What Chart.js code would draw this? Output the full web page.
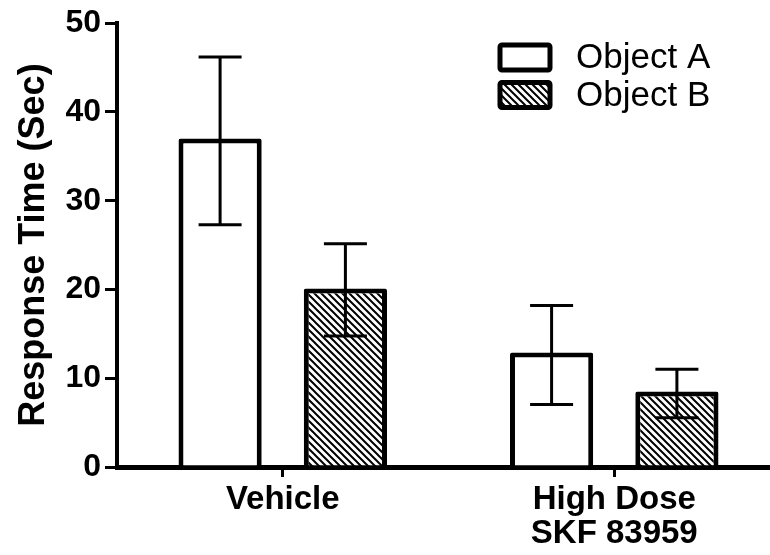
<!DOCTYPE html>
<html>
<head>
<meta charset="utf-8">
<script src="https://cdn.jsdelivr.net/npm/chart.js@4/dist/chart.umd.min.js"></script>
<style>
  html, body { margin: 0; padding: 0; overflow: hidden; background: #fff; }
  #wrap { width: 780px; height: 555px; }
</style>
</head>
<body>
<div id="wrap"><canvas id="myChart" width="780" height="555"></canvas></div>
<script>
// data
const groups = ["Vehicle", ["High Dose", "SKF 83959"]];
const seriesNames = ["Object A", "Object B"];
const objectA = [37.0, 12.9];
const objectB = [20.1, 8.5];
// whisker ends (upper / lower)
const errHighA = [46.2, 18.2];
const errLowA = [27.3, 7.05];
const errHighB = [25.15, 11.0];
const errLowB = [14.75, 5.55];
const yTicks = [0, 10, 20, 30, 40, 50];

const fontFam = '"Liberation Sans", Arial, sans-serif';

// diagonal hatch for Object B
function makeHatch() {
    const c = document.createElement("canvas");
    c.width = 7;
    c.height = 7;
    const g = c.getContext("2d");
    g.fillStyle = "#fff";
    g.fillRect(0, 0, 7, 7);
    g.strokeStyle = "#000";
    g.lineWidth = 2;
    g.beginPath();
    g.moveTo(-1, -1); g.lineTo(8, 8);
    g.moveTo(-1, 6); g.lineTo(1, 8);
    g.moveTo(6, -1); g.lineTo(8, 1);
    g.stroke();
    return g.createPattern(c, "repeat");
}
const hatch = makeHatch();

// error bars drawn through the y scale
const errorBars = {
    id: "errorBars",
    afterDatasetsDraw(chart) {
        const ctx = chart.ctx;
        const y = chart.scales.y;
        const highs = [errHighA, errHighB];
        const lows = [errLowA, errLowB];
        ctx.save();
        ctx.strokeStyle = "#000";
        ctx.lineWidth = 3;
        chart.data.datasets.forEach((ds, i) => {
            const meta = chart.getDatasetMeta(i);
            meta.data.forEach((bar, j) => {
                const hi = y.getPixelForValue(highs[i][j]);
                const lo = y.getPixelForValue(lows[i][j]);
                const x = bar.x;
                ctx.beginPath();
                ctx.moveTo(x, hi); ctx.lineTo(x, lo);
                ctx.moveTo(x - 21.5, hi); ctx.lineTo(x + 21.5, hi);
                ctx.moveTo(x - 21.5, lo); ctx.lineTo(x + 21.5, lo);
                ctx.stroke();
            });
        });
        ctx.restore();
    }
};

// legend inside the plot, top right
const boxLegend = {
    id: "boxLegend",
    afterDraw(chart) {
        const ctx = chart.ctx;
        ctx.save();
        chart.data.datasets.forEach((ds, i) => {
            const top = 45 + i * 37.5;
            ctx.fillStyle = ds.backgroundColor;
            ctx.fillRect(500, top, 50, 25);
            ctx.lineWidth = 5;
            ctx.strokeStyle = "#000";
            ctx.beginPath();
            ctx.roundRect(500, top, 50, 25, 2);
            ctx.stroke();
            ctx.fillStyle = "#000";
            ctx.font = "35px " + fontFam;
            ctx.textBaseline = "alphabetic";
            ctx.fillText(ds.label, 576, top + 23);
        });
        ctx.restore();
    }
};

const ctx = document.getElementById("myChart");
const myChart = new Chart(ctx, {
    type: "bar",
    data: {
        labels: groups,
        datasets: [
            {
                label: seriesNames[0],
                data: objectA,
                backgroundColor: "#fff",
                borderColor: "#000",
                borderWidth: 5,
                borderRadius: 2,
            },
            {
                label: seriesNames[1],
                data: objectB,
                backgroundColor: hatch,
                borderColor: "#000",
                borderWidth: 5,
                borderRadius: 2,
            },
        ],
    },
    options: {
        responsive: false,
        animation: false,
        categoryPercentage: 0.756,
        barPercentage: 0.664,
        layout: { padding: { top: 22, left: 0, right: 0, bottom: 0 } },
        plugins: {
            legend: { display: false },
            tooltip: { enabled: false },
        },
        scales: {
            x: {
                afterFit: (s) => { s.height = 88; },
                grid: {
                    offset: false,
                    drawOnChartArea: false,
                    drawTicks: true,
                    tickLength: 10,
                    lineWidth: 3,
                    color: "#000",
                },
                border: { display: true, width: 5, color: "#000" },
                ticks: {
                    color: "#000",
                    padding: 6,
                    maxRotation: 0,
                    font: { family: fontFam, size: 33, weight: "bold", lineHeight: 1.02 },
                },
            },
            y: {
                min: 0,
                max: 50,
                afterFit: (s) => { s.width = 117; },
                afterBuildTicks: (s) => { s.ticks = yTicks.map((v) => ({ value: v })); },
                grid: {
                    drawOnChartArea: false,
                    drawTicks: true,
                    tickLength: 12,
                    lineWidth: 3,
                    color: "#000",
                },
                border: { display: true, width: 4, color: "#000" },
                ticks: {
                    color: "#000",
                    padding: 4,
                    font: { family: fontFam, size: 32, weight: "bold" },
                },
                title: {
                    display: true,
                    text: "Response Time (Sec)",
                    color: "#000",
                    padding: { top: 12, bottom: 4 },
                    font: { family: fontFam, size: 36, weight: "bold" },
                },
            },
        },
    },
    plugins: [errorBars, boxLegend],
});
</script>
</body>
</html>
